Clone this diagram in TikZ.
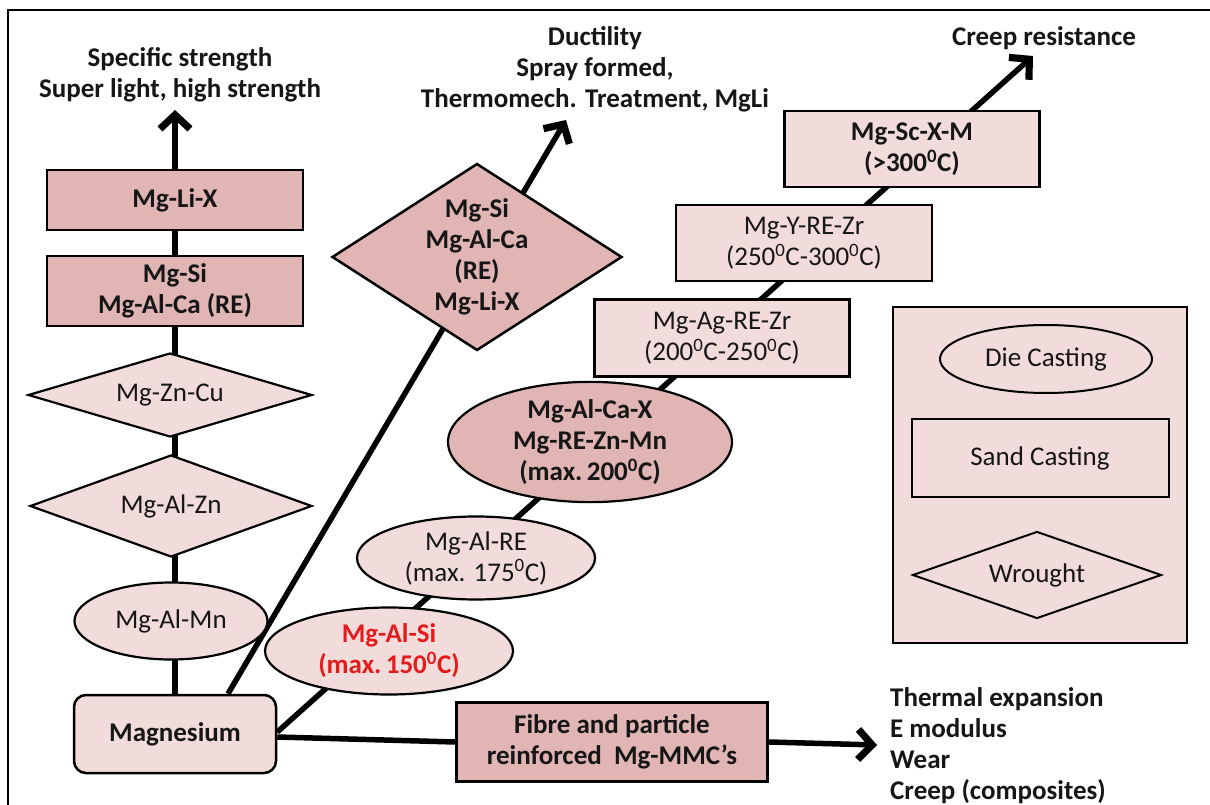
\documentclass[tikz,border=0pt]{standalone}
\usepackage{fontspec}
\setmainfont{Carlito}
\usetikzlibrary{shapes.geometric,arrows.meta,calc}
\definecolor{pinklight}{HTML}{F2DCDB}
\definecolor{pinkdark}{HTML}{E0B5B4}
\definecolor{alsired}{RGB}{226,28,28}
\definecolor{ink}{RGB}{22,22,22}
\pgfdeclarelayer{bg}
\pgfsetlayers{bg,main}
\newcommand{\reg}{\fontsize{27}{31}\selectfont}
\newcommand{\bld}{\fontsize{27}{31}\selectfont\bfseries}
\begin{document}
\begin{tikzpicture}[x=1pt,y=-1pt,
  every node/.style={font=\reg, text=ink, align=center, inner sep=0pt},
  conn/.style={line width=5.5pt},
  arr/.style={conn, -{Straight Barb[length=14pt,width=30pt,line width=0pt 1.3]}},
  boxbase/.style={draw, line width=2.5pt, rectangle},
  lightbox/.style={boxbase, fill=pinklight},
  darkbox/.style={boxbase, fill=pinkdark, font=\bld},
  ovalbase/.style={draw, line width=2.2pt, ellipse},
  lightoval/.style={ovalbase, fill=pinklight},
  darkoval/.style={ovalbase, fill=pinkdark, font=\bld},
  wrought/.style={draw, line width=2.2pt, diamond, fill=pinklight},
  darkwrought/.style={draw, line width=2.5pt, diamond, fill=pinkdark, font=\bld},
  legendshape/.style={draw, line width=2pt, fill=pinklight},
  goal/.style={font=\bld}
]
\useasboundingbox (0,0) rectangle (1210,805);

% end points of the development directions
\coordinate (tipL) at (175,110);
\coordinate (tipD) at (566,120);
\coordinate (tipC) at (1033,56);
\coordinate (tipM) at (877,745);

% direction labels
\node[goal] (lblL) at (180,75) {Specific strength\\Super light, high strength};
\node[goal] (lblD) at (595,69) {Ductility\\Spray formed,\\Thermomech. Treatment, MgLi};
\node[goal] (lblC) at (1044,38) {Creep resistance};
\node[goal, anchor=west, align=left] (lblM) at (890,746) {Thermal expansion\\E modulus\\Wear\\Creep (composites)};

% base material
\node[lightbox, rounded corners=12pt, minimum width=202pt, minimum height=78pt, font=\bld] (mag) at (175,734) {Magnesium};

% specific strength branch
\node[lightoval, minimum width=193pt, minimum height=77pt] (almn) at (171,621) {Mg-Al-Mn};
\node[wrought, minimum width=282pt, minimum height=102pt, aspect=2.8] (alzn) at (171,506) {Mg-Al-Zn};
\node[wrought, minimum width=284pt, minimum height=84pt, aspect=3.4] (zncu) at (170,395) {Mg-Zn-Cu};
\node[darkbox, minimum width=256pt, minimum height=70pt] (mgsi) at (175,291) {Mg-Si\\Mg-Al-Ca (RE)};
\node[darkbox, minimum width=256pt, minimum height=60pt] (mglix) at (175,200) {Mg-Li-X};

% ductility branch
\node[darkwrought, minimum width=290pt, minimum height=187pt, aspect=1.55] (duct) at (477,257)
  {Mg-Si\\Mg-Al-Ca\\(RE)\\Mg-Li-X};

% creep branch
\node[lightoval, minimum width=248pt, minimum height=87pt, font=\bld, text=alsired] (alsi) at (389,651)
  {Mg-Al-Si\\(max.\,150\textsuperscript{0}C)};
\node[lightoval, minimum width=238pt, minimum height=83pt] (alre) at (476,558)
  {Mg-Al-RE\\(max. 175\textsuperscript{0}C)};
\node[darkoval, minimum width=284pt, minimum height=95pt] (alca) at (590,442)
  {Mg-Al-Ca-X\\Mg-RE-Zn-Mn\\(max.\,200\textsuperscript{0}C)};
\node[lightbox, minimum width=255pt, minimum height=77pt] (agre) at (722,338)
  {Mg-Ag-RE-Zr\\(200\textsuperscript{0}C-250\textsuperscript{0}C)};
\node[lightbox, minimum width=256pt, minimum height=76pt] (yre) at (804,243)
  {Mg-Y-RE-Zr\\(250\textsuperscript{0}C-300\textsuperscript{0}C)};
\node[lightbox, minimum width=255pt, minimum height=76pt, font=\bld] (scx) at (912,149)
  {Mg-Sc-X-M\\(>300\textsuperscript{0}C)};

% composites
\node[darkbox, minimum width=311pt, minimum height=79pt] (mmc) at (612,742)
  {Fibre and particle\\reinforced\ \ Mg-MMC’s};

% legend of processing routes
\node[legendshape, rectangle, line width=2.2pt, minimum width=294pt, minimum height=336pt] (legend) at (1040,475) {};
\node[legendshape, ellipse, minimum width=212pt, minimum height=68pt] (diecast) at (1046,359) {Die Casting};
\node[legendshape, rectangle, minimum width=257pt, minimum height=78pt] (sandcast) at (1040,458) {Sand Casting};
\node[legendshape, diamond, aspect=2.8, minimum width=249pt, minimum height=87pt] (wrought) at (1037,575) {Wrought};

% page, frame and connectors behind the shapes
\begin{pgfonlayer}{bg}
  \fill[white] (0,0) rectangle (1210,805);
  \draw[line width=1.5pt] (8,10) rectangle (1220,820);
  \draw[arr] (mag.north) -- (tipL);
  \draw[arr] ([xshift=53pt]mag.north) -- (tipD);
  \draw[arr] ([yshift=2pt]mag.east) -- (tipC);
  \draw[conn] ([yshift=-3pt]mag.east) -- (mmc.west);
  \draw[arr] (mmc.east) -- (tipM);
\end{pgfonlayer}
\end{tikzpicture}
\end{document}
